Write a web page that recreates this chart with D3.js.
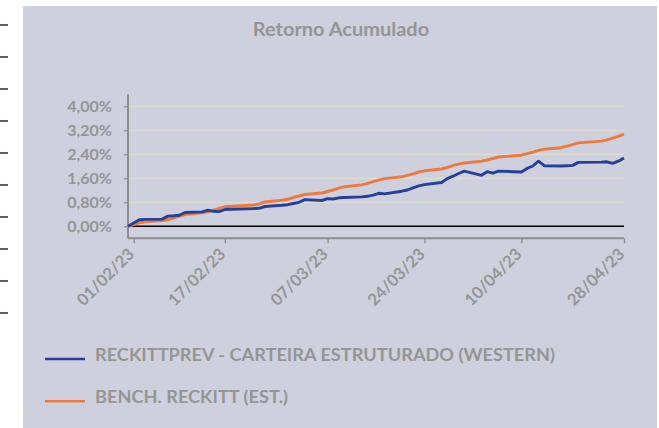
<!DOCTYPE html>
<html>
<head>
<meta charset="utf-8">
<script src="https://cdnjs.cloudflare.com/ajax/libs/d3/7.8.5/d3.min.js"></script>
<style>
  body { margin: 0; background: #ffffff; }
  svg { display: block; }
  text { font-family: Lato, "Open Sans", sans-serif; font-weight: bold; fill: #959595; }
</style>
</head>
<body>
<svg id="chart" width="659" height="428"></svg>
<script>
// trading days (dd/mm/yy)
var dates = ["31/01/23", "01/02/23", "02/02/23", "03/02/23", "06/02/23", "07/02/23", "08/02/23", "09/02/23", "10/02/23",
  "13/02/23", "14/02/23", "15/02/23", "16/02/23", "17/02/23", "22/02/23", "23/02/23", "24/02/23",
  "27/02/23", "28/02/23", "01/03/23", "02/03/23", "03/03/23", "06/03/23", "07/03/23", "08/03/23", "09/03/23", "10/03/23",
  "13/03/23", "14/03/23", "15/03/23", "16/03/23", "17/03/23", "20/03/23", "21/03/23", "22/03/23", "23/03/23", "24/03/23",
  "27/03/23", "28/03/23", "29/03/23", "30/03/23", "31/03/23", "03/04/23", "04/04/23", "05/04/23", "06/04/23",
  "10/04/23", "11/04/23", "12/04/23", "13/04/23", "14/04/23", "17/04/23", "18/04/23", "19/04/23", "20/04/23",
  "24/04/23", "25/04/23", "26/04/23", "27/04/23", "28/04/23"];

// RECKITTPREV - CARTEIRA ESTRUTURADO (WESTERN), % acumulado
var carteira = [0, 0.11, 0.22, 0.23, 0.24, 0.34, 0.35, 0.37, 0.46,
  0.48, 0.54, 0.50, 0.49, 0.56, 0.59, 0.60, 0.66,
  0.70, 0.72, 0.76, 0.80, 0.89, 0.86, 0.92, 0.91, 0.95, 0.96,
  0.98, 1.00, 1.04, 1.10, 1.08, 1.17, 1.21, 1.28, 1.35, 1.39,
  1.46, 1.59, 1.67, 1.76, 1.84, 1.70, 1.82, 1.77, 1.84,
  1.81, 1.93, 2.01, 2.17, 2.02, 2.01, 2.02, 2.03, 2.13,
  2.14, 2.15, 2.10, 2.17, 2.28];

// BENCH. RECKITT (EST.)
var bench = [0, 0.06, 0.12, 0.15, 0.19, 0.22, 0.28, 0.33, 0.39,
  0.45, 0.48, 0.54, 0.60, 0.65, 0.71, 0.75, 0.81,
  0.87, 0.90, 0.96, 1.01, 1.06, 1.11, 1.16, 1.21, 1.27, 1.32,
  1.38, 1.43, 1.49, 1.54, 1.59, 1.65, 1.70, 1.75, 1.81, 1.85,
  1.91, 1.96, 2.02, 2.07, 2.11, 2.17, 2.21, 2.26, 2.31,
  2.37, 2.42, 2.47, 2.53, 2.57, 2.62, 2.67, 2.72, 2.78,
  2.84, 2.88, 2.94, 3.00, 3.07];

var tickDates = ["01/02/23", "17/02/23", "07/03/23", "24/03/23", "10/04/23", "28/04/23"];
var yTicks = [0, 0.8, 1.6, 2.4, 3.2, 4.0];

var seriesNames = ["RECKITTPREV - CARTEIRA ESTRUTURADO (WESTERN)", "BENCH. RECKITT (EST.)"];
var seriesColors = ["#24409a", "#ee7a3e"];

var svg = d3.select("#chart");
var parseDate = d3.utcParse("%d/%m/%y");
var ptBR = d3.formatLocale({ decimal: ",", thousands: ".", grouping: [3], currency: ["R$", ""] });
var pct = ptBR.format(".2f");

// panel background
svg.append("rect")
  .attr("x", 23).attr("y", 6)
  .attr("width", 634).attr("height", 422)
  .attr("fill", "#ced0dd");

// little marks cut off at the left edge
svg.append("g")
  .selectAll("line")
  .data(d3.range(10))
  .enter().append("line")
  .attr("x1", 0).attr("x2", 8)
  .attr("y1", function (d) { return 25 + d * 32; })
  .attr("y2", function (d) { return 25 + d * 32; })
  .attr("stroke", "#1c2660")
  .attr("stroke-width", 1.5);

// text in the original is a bit wider than tall, so stretch it sideways
svg.append("text")
  .attr("transform", "translate(341,36) scale(1.11,1)")
  .attr("text-anchor", "middle")
  .style("font-size", "18px")
  .text("Retorno Acumulado");

var x = d3.scaleUtc()
  .domain([parseDate(dates[0]), parseDate(dates[dates.length - 1])])
  .range([128, 624]);

var y = d3.scaleLinear()
  .domain([-0.4, 4.4])
  .range([238.3, 94.3]);

// gridlines
svg.append("g")
  .selectAll("line")
  .data(yTicks.slice(1))
  .enter().append("line")
  .attr("x1", 128).attr("x2", 624)
  .attr("y1", function (d) { return y(d); })
  .attr("y2", function (d) { return y(d); })
  .attr("stroke", "#dfddd6")
  .attr("stroke-width", 1.3);

// y axis
var yAxis = svg.append("g")
  .attr("transform", "translate(128,0)")
  .call(d3.axisLeft(y).tickValues(yTicks).tickSize(4)
    .tickFormat(function (d) { return pct(d) + "%"; }));
yAxis.select(".domain").attr("d", "M0," + y(-0.4) + "V" + y(4.4)).attr("stroke", "#8e8e8e").attr("stroke-width", 2);
yAxis.selectAll(".tick line").attr("stroke", "#8e8e8e").attr("stroke-width", 1.3);
yAxis.selectAll("text")
  .attr("x", 0)
  .attr("transform", "translate(-16,0) scale(1.07,1)")
  .attr("fill", "#959595")
  .style("font-size", "15px")
  .style("font-family", "Lato, sans-serif")
  .style("font-weight", "bold");

// x axis
var xAxis = svg.append("g")
  .attr("transform", "translate(0," + y(-0.4) + ")")
  .call(d3.axisBottom(x).tickValues(tickDates.map(parseDate)).tickSize(5)
    .tickFormat(d3.utcFormat("%d/%m/%y")));
xAxis.select(".domain").attr("d", "M128,0H624").attr("stroke", "#8e8e8e").attr("stroke-width", 2);
xAxis.selectAll(".tick line").attr("stroke", "#8e8e8e").attr("stroke-width", 1.3);
xAxis.selectAll("text")
  .attr("fill", "#959595")
  .style("font-size", "16.5px")
  .style("font-family", "Lato, sans-serif")
  .style("font-weight", "bold")
  .attr("text-anchor", "end")
  .attr("y", 0).attr("dy", 0)
  .attr("transform", "translate(1,17) rotate(-45)");

// zero line
svg.append("line")
  .attr("x1", 128).attr("x2", 624)
  .attr("y1", y(0)).attr("y2", y(0))
  .attr("stroke", "#000000")
  .attr("stroke-width", 1.5);

var line = d3.line()
  .x(function (d) { return x(d.date); })
  .y(function (d) { return y(d.value); });

var series = [carteira, bench].map(function (vals, i) {
  return {
    name: seriesNames[i],
    color: seriesColors[i],
    values: vals.map(function (v, j) { return { date: parseDate(dates[j]), value: v }; })
  };
});

// benchmark underneath, portfolio on top
svg.append("g")
  .selectAll("path")
  .data(series.slice().reverse())
  .enter().append("path")
  .attr("fill", "none")
  .attr("stroke", function (d) { return d.color; })
  .attr("stroke-width", 2.9)
  .attr("stroke-linejoin", "round")
  .attr("d", function (d) { return line(d.values); });

// legend
var legend = svg.append("g")
  .selectAll("g")
  .data(series)
  .enter().append("g")
  .attr("transform", function (d, i) { return "translate(45," + (359 + i * 42.3) + ")"; });

legend.append("line")
  .attr("x1", 0).attr("x2", 40)
  .attr("stroke", function (d) { return d.color; })
  .attr("stroke-width", 2.5);

legend.append("text")
  .attr("transform", "translate(50,1.7) scale(1.07,1)")
  .style("font-size", "17px")
  .text(function (d) { return d.name; });
</script>
</body>
</html>
